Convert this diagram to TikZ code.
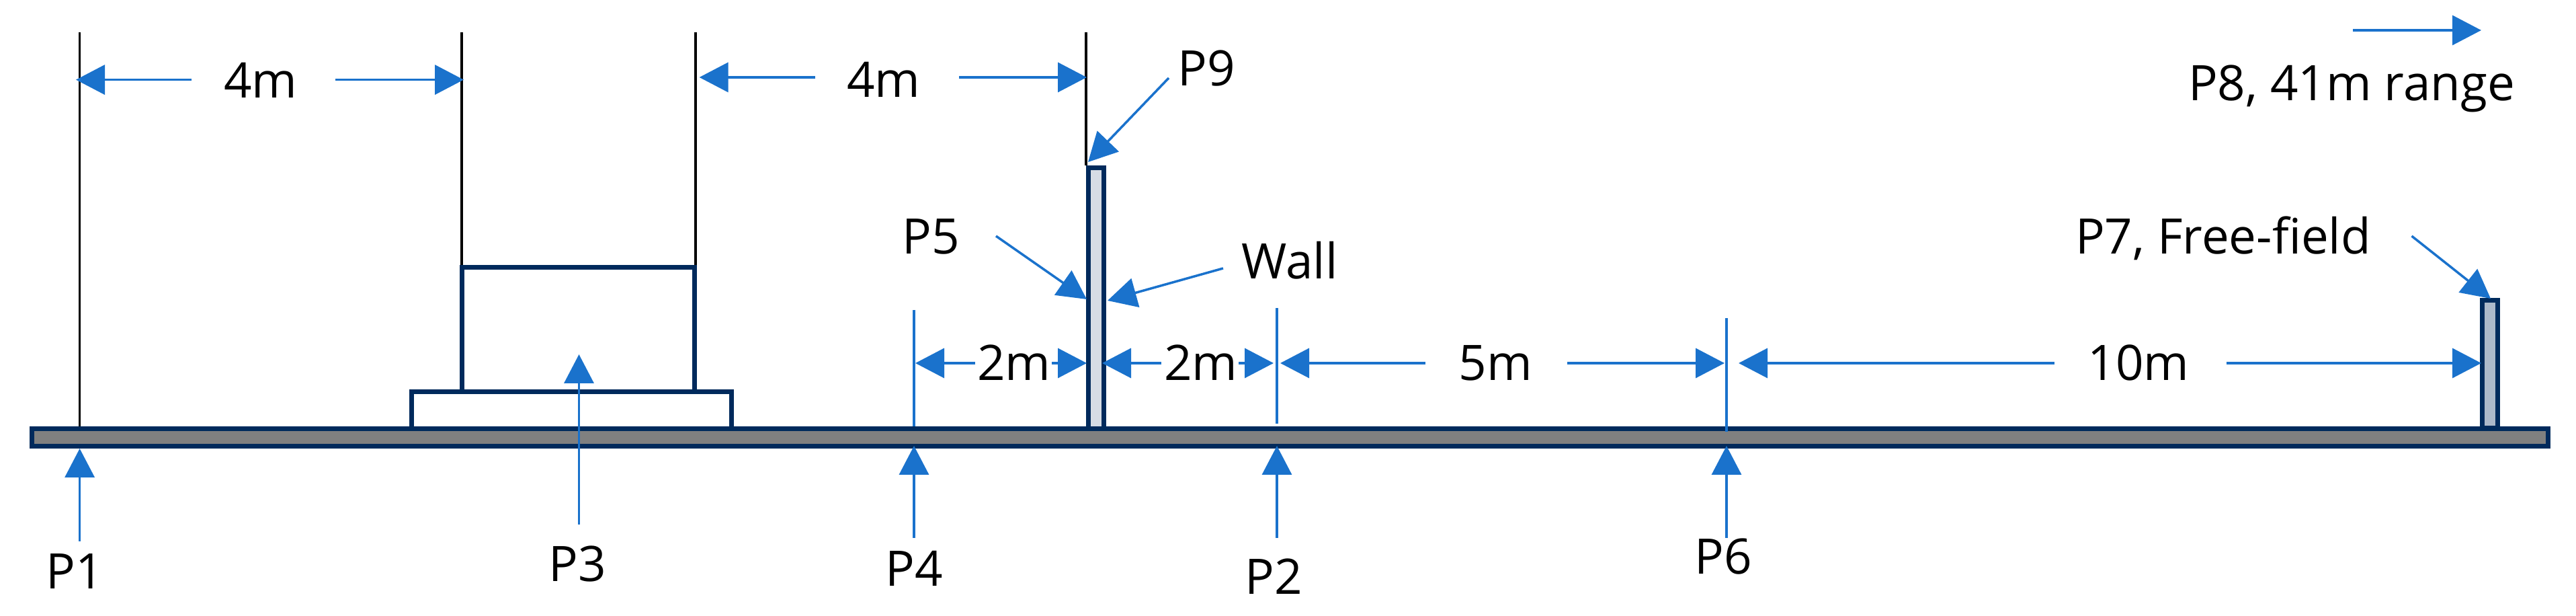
\documentclass[tikz,border=0pt]{standalone}
\usepackage{fontspec}
\setmainfont{Open Sans}
\usepackage{xcolor}
\definecolor{navy}{HTML}{002A5C}
\definecolor{arrowblue}{HTML}{1A72CC}
\definecolor{groundgray}{HTML}{808080}
\definecolor{wallpale}{HTML}{D6DCE5}
\definecolor{wallblue}{HTML}{ADB9CA}
\usetikzlibrary{arrows.meta}

\begin{document}
\begin{tikzpicture}[
    slab/.style={draw=navy, line width=0.07cm, fill=white, inner sep=0pt, anchor=north west},
    lbl/.style={font=\fontsize{20.7}{24}\selectfont, inner sep=0pt, text height=0.5cm, text depth=0pt},
    arr/.style={arrowblue, line width=1pt, -{Triangle[length=0.43cm,width=0.44cm]}},
    guide/.style={black, line width=1pt},
    tick/.style={arrowblue, line width=1pt}]
    \useasboundingbox (0,0) rectangle (38.33,-9.16);

    % Building, walls and ground
    \node[slab, minimum width=3.455cm, minimum height=1.85cm] (Upper) at (6.84,-3.94) {};
    \node[slab, minimum width=4.76cm, minimum height=0.6cm] (Lower) at (6.09,-5.79) {};
    \node[slab, fill=wallpale, minimum width=0.23cm, minimum height=3.9cm] (Wall) at (16.155,-2.465) {};
    \node[slab, fill=wallblue, minimum width=0.23cm, minimum height=1.9cm] (Free) at (36.895,-4.43) {};
    \node[slab, fill=groundgray, minimum width=37.44cm, minimum height=0.26cm] (Ground) at (0.435,-6.34) {};

    % Guide lines
    \coordinate (G1) at (1.186,-0.48);
    \coordinate (G2) at (6.87,-0.48);
    \coordinate (G3) at (10.35,-0.48);
    \coordinate (G4) at (16.16,-0.48);
    \draw[guide] (G1) -- (G1 |- Ground.north);
    \draw[guide] (G2) -- (G2 |- Upper.north);
    \draw[guide] (G3) -- (G3 |- Upper.north);
    \draw[guide] (G4) -- (G4 |- Wall.north);
    \coordinate (T4) at (13.60,-4.61);
    \coordinate (T2) at (19.00,-4.58);
    \coordinate (T6) at (25.69,-4.73);
    \draw[tick] (T4) -- (T4 |- Ground.north);
    \draw[tick] (T2) -- (19.00,-6.30);
    \draw[tick] (T6) -- (25.69,-6.425);

    % Top spans
    \node[lbl] (SpanA) at (3.88,-1.21) {4m};
    \draw[arr] (2.85,-1.186) -- (1.13,-1.186);
    \draw[arr] (4.99,-1.186) -- (6.90,-1.186);
    \node[lbl] (SpanB) at (13.15,-1.20) {4m};
    \draw[arr] (12.13,-1.15) -- (10.406,-1.15);
    \draw[arr] (14.27,-1.15) -- (16.17,-1.15);

    % Ground spans
    \node[lbl] (SpanC) at (15.09,-5.41) {2m};
    \draw[arr] (14.51,-5.40) -- (13.62,-5.40);
    \draw[arr] (15.65,-5.40) -- (16.17,-5.40);
    \node[lbl] (SpanD) at (17.87,-5.41) {2m};
    \draw[arr] (17.28,-5.40) -- (16.40,-5.40);
    \draw[arr] (18.43,-5.40) -- (18.95,-5.40);
    \node[lbl] (SpanE) at (22.25,-5.41) {5m};
    \draw[arr] (21.21,-5.40) -- (19.05,-5.40);
    \draw[arr] (23.32,-5.40) -- (25.66,-5.40);
    \node[lbl] (SpanF) at (31.82,-5.41) {10m};
    \draw[arr] (30.57,-5.40) -- (25.87,-5.40);
    \draw[arr] (33.125,-5.40) -- (36.92,-5.40);

    % Points below the ground
    \node[lbl] (P1) at (1.11,-8.51) {P1};
    \coordinate (P1tail) at (1.186,-8.05);
    \draw[arr] (P1tail) -- (P1tail |- Ground.south);
    \node[lbl] (P3) at (8.59,-8.40) {P3};
    \draw[arr] (8.615,-7.80) -- (8.615,-5.27);
    \node[lbl] (P4) at (13.60,-8.47) {P4};
    \draw[arr] (13.60,-8.00) -- (13.60,-6.63);
    \node[lbl] (P2) at (18.95,-8.59) {P2};
    \draw[arr] (19.00,-8.00) -- (19.00,-6.63);
    \node[lbl] (P6) at (25.645,-8.29) {P6};
    \draw[arr] (25.69,-8.00) -- (25.69,-6.63);

    % Points above the ground
    \node[lbl] (P9) at (17.95,-1.03) {P9};
    \draw[arr] (17.39,-1.16) -- (16.19,-2.41);
    \node[lbl] (P5) at (13.85,-3.53) {P5};
    \draw[arr] (14.82,-3.51) -- (16.17,-4.45);
    \node[lbl] (WallLbl) at (19.19,-3.90) {Wall};
    \draw[arr] (18.20,-3.99) -- (16.48,-4.47);
    \node[lbl] (P7) at (33.08,-3.53) {P7, Free-field};
    \draw[arr] (35.885,-3.51) -- (37.06,-4.44);
    \node[lbl] (P8) at (34.99,-1.25) {P8, 41m range};
    \coordinate (P8tail) at (35.01,-0.45);
    \draw[arr] (P8tail) -- (36.92,-0.45);
\end{tikzpicture}
\end{document}
